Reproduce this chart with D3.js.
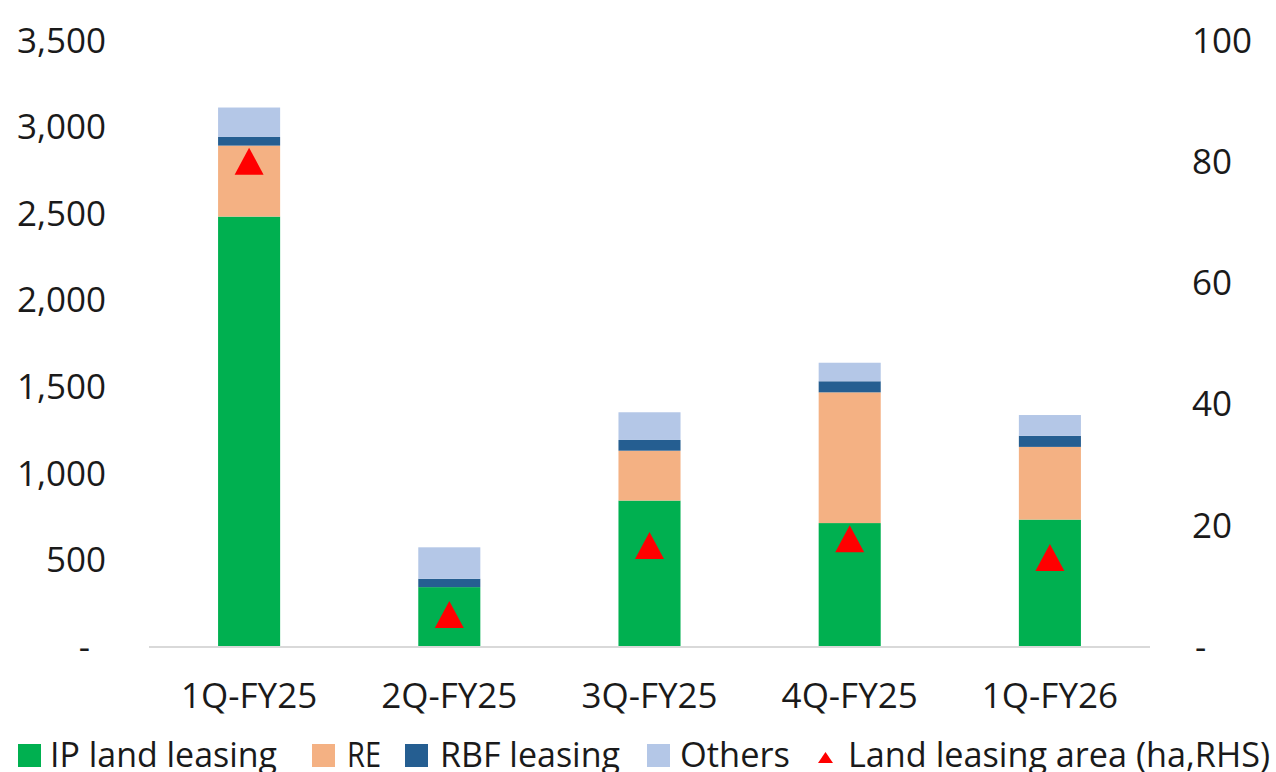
<!DOCTYPE html>
<html>
<head>
<meta charset="utf-8">
<script src="https://cdn.jsdelivr.net/npm/d3@7"></script>
<style>
  html, body { margin: 0; padding: 0; background: #fff; }
  svg { display: block; }
  text { font-family: "Open Sans", sans-serif; fill: #1a1a1a; }
</style>
</head>
<body>
<svg id="chart" width="1276" height="772"></svg>
<script>
const categories = ["1Q-FY25", "2Q-FY25", "3Q-FY25", "4Q-FY25", "1Q-FY26"];
const ipLandLeasing = [2480, 340, 840, 710, 730];
const reValues = [410, 0, 288, 755, 420];
const rbfLeasing = [50, 48, 62, 64, 64];
const others = [170, 182, 160, 107, 120];
const landLeasingArea = [80, 5.2, 16.6, 17.7, 14.6];
const leftTicks = [0, 500, 1000, 1500, 2000, 2500, 3000, 3500];
const rightTicks = [0, 20, 40, 60, 80, 100];
const seriesNames = ["IP land leasing", "RE", "RBF leasing", "Others"];
const seriesColors = ["#00B050", "#F4B183", "#255E91", "#B4C7E7"];
const lineName = "Land leasing area (ha,RHS)";

const svg = d3.select("#chart");
const x = d3.scaleBand().domain(categories).range([149, 1150]).paddingInner(0.69).paddingOuter(0.345);
const yL = d3.scaleLinear().domain([0, 3500]).range([646, 40]);
const yR = d3.scaleLinear().domain([0, 100]).range([646, 40]);

const rows = categories.map((c, i) => ({
  cat: c,
  "IP land leasing": ipLandLeasing[i],
  "RE": reValues[i],
  "RBF leasing": rbfLeasing[i],
  "Others": others[i]
}));
const stacked = d3.stack().keys(seriesNames)(rows);

// bars
svg.append("g").selectAll("g").data(stacked).join("g")
  .attr("fill", (d, i) => seriesColors[i])
  .selectAll("rect").data(d => d).join("rect")
  .attr("x", d => x(d.data.cat))
  .attr("width", x.bandwidth())
  .attr("y", d => yL(d[1]))
  .attr("height", d => yL(d[0]) - yL(d[1]));

// baseline
svg.append("line")
  .attr("x1", 149).attr("x2", 1150)
  .attr("y1", yL(0) + 1).attr("y2", yL(0) + 1)
  .attr("stroke", "#d9d9d9").attr("stroke-width", 2);

// triangle markers
const tri = (w, h) => `M0,${-h/2}L${w/2},${h/2}L${-w/2},${h/2}Z`;
svg.append("g").selectAll("path").data(landLeasingArea).join("path")
  .attr("d", tri(29, 27))
  .attr("fill", "#FF0000")
  .attr("transform", (d, i) => `translate(${x(categories[i]) + x.bandwidth() / 2},${yR(d)})`);

// left axis
const fmt = d3.format(",");
const axL = svg.append("g").attr("transform", "translate(106,0)")
  .call(d3.axisLeft(yL).tickValues(leftTicks).tickSize(0).tickPadding(0)
    .tickFormat(d => d === 0 ? "-" : fmt(d)));
axL.select(".domain").remove();
axL.selectAll("text").attr("font-size", 35).attr("font-family", "Open Sans").attr("fill", "#1a1a1a")
  .attr("dy", "0.35em");
axL.selectAll(".tick").filter(d => d === 0).select("text").attr("dx", -16);

// right axis
const axR = svg.append("g").attr("transform", "translate(1192,0)")
  .call(d3.axisRight(yR).tickValues(rightTicks).tickSize(0).tickPadding(0)
    .tickFormat(d => d === 0 ? "-" : d));
axR.select(".domain").remove();
axR.selectAll("text").attr("font-size", 35).attr("font-family", "Open Sans").attr("fill", "#1a1a1a")
  .attr("dy", "0.35em");
axR.selectAll(".tick").filter(d => d === 0).select("text").attr("dx", 3);

// x axis labels
const axX = svg.append("g").attr("transform", "translate(0,670)")
  .call(d3.axisBottom(x).tickSize(0).tickPadding(0));
axX.select(".domain").remove();
axX.selectAll("text").attr("font-size", 35).attr("font-family", "Open Sans").attr("fill", "#1a1a1a")
  .attr("dy", "0").attr("y", 38);

// legend
const legendItems = [
  { name: seriesNames[0], color: seriesColors[0], mx: 18, tx: 50, w: 227, type: "rect" },
  { name: seriesNames[1], color: seriesColors[1], mx: 312, tx: 347, w: 34, type: "rect" },
  { name: seriesNames[2], color: seriesColors[2], mx: 405, tx: 440, w: 180, type: "rect" },
  { name: seriesNames[3], color: seriesColors[3], mx: 647, tx: 680, w: 110, type: "rect" },
  { name: lineName, color: "#FF0000", mx: 818, tx: 848, w: 422, type: "tri" }
];
const lg = svg.append("g");
legendItems.forEach(it => {
  if (it.type === "rect") {
    lg.append("rect").attr("x", it.mx).attr("y", 744).attr("width", 23).attr("height", 23).attr("fill", it.color);
  } else {
    lg.append("path").attr("d", tri(15, 11)).attr("fill", it.color)
      .attr("transform", `translate(${it.mx + 7.5},${757.5})`);
  }
  lg.append("text").attr("x", it.tx).attr("y", 767).attr("font-size", 35)
    .attr("textLength", it.w).attr("lengthAdjust", "spacingAndGlyphs").text(it.name);
});
</script>
</body>
</html>
